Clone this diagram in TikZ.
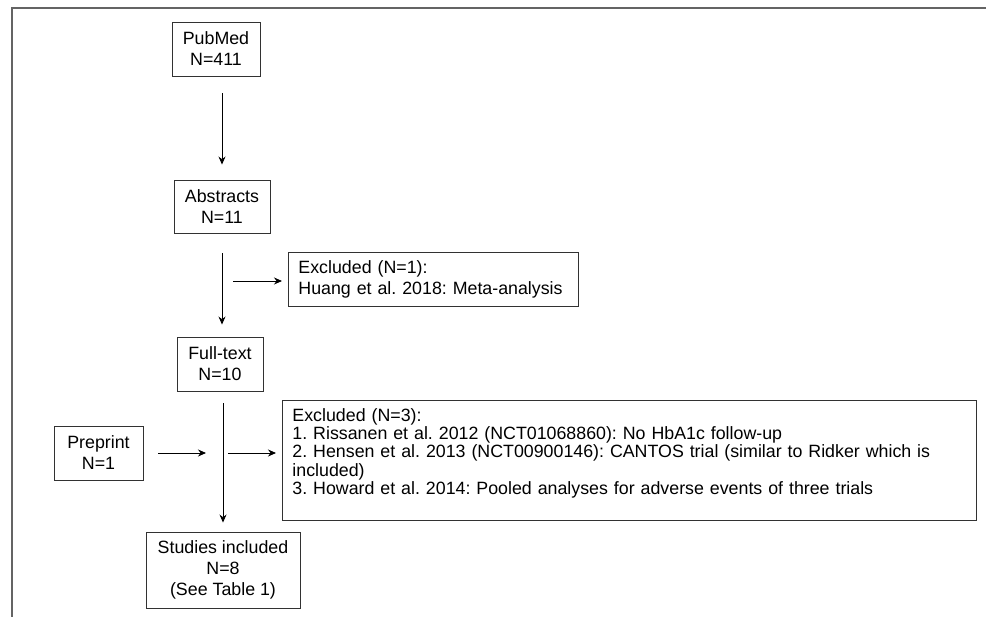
\documentclass[tikz,border=0pt]{standalone}
\usepackage{fontspec}
\setmainfont{Liberation Sans}
\usetikzlibrary{arrows.meta,positioning}
\definecolor{framegray}{RGB}{100,100,100}
\definecolor{boxgray}{RGB}{50,50,50}
\frenchspacing

\begin{document}
\begin{tikzpicture}[x=1pt,y=-1pt,
  stagebox/.style={draw=boxgray,line width=0.9pt,align=center,inner sep=0pt,
                   font=\fontsize{17.8}{21}\selectfont},
  exclbox/.style={draw=boxgray,line width=0.9pt,align=left,anchor=north west,
                  inner xsep=10pt,inner ysep=0pt,font=\fontsize{17.8}{18.3}\selectfont},
  flow/.style={-{Stealth[length=8pt,width=7pt]},line width=0.9pt}]
  \useasboundingbox (0,0) rectangle (986,617);

  % outer frame (top and left side only)
  \draw[framegray,line width=2pt] (12,617) -- (12,8) -- (986,8);

  % main column
  \node[stagebox,minimum width=88pt,minimum height=54pt] (pubmed) at (216,49) {PubMed\\N=411};
  \node[stagebox,minimum width=96pt,minimum height=53pt] (abstracts) at (222,206.5) {Abstracts\\N=11};
  \node[stagebox,minimum width=86pt,minimum height=54pt] (fulltext) at (220,364) {Full-text\\N=10};
  \node[stagebox,minimum width=154pt,minimum height=76pt] (studies) at (223,570) {Studies included\\N=8\\(See Table 1)};
  \node[stagebox,minimum width=89pt,minimum height=54pt] (preprint) at (98.5,453) {Preprint\\N=1};

  % exclusion boxes
  \node[exclbox,text width=270pt,minimum height=54pt,font=\fontsize{17.8}{21}\selectfont] (excl1) at (288,252)
       {Excluded (N=1):\\Huang et al. 2018: Meta-analysis};
  \node[exclbox,text width=674pt,minimum height=120pt] (excl3) at (282,400)
       {Excluded (N=3):\\
        1. Rissanen et al. 2012 (NCT01068860): No HbA1c follow-up\\
        2. Hensen et al. 2013 (NCT00900146): CANTOS trial (similar to Ridker which is\\
        included)\\
        3. Howard et al. 2014: Pooled analyses for adverse events of three trials\\
        \mbox{}};

  % junctions on the vertical flow
  \coordinate (j1) at (222,281);
  \coordinate (j2) at (223,453);

  % vertical arrows
  \draw[flow,shorten <=17pt,shorten >=15pt] (abstracts.north |- pubmed.south) -- (abstracts.north);
  \draw[flow,shorten <=20pt,shorten >=12pt] (abstracts.south) -- (abstracts.south |- fulltext.north);
  \draw[flow,shorten <=12pt,shorten >=9pt] (studies.north |- fulltext.south) -- (studies.north);

  % side arrows
  \draw[flow,shorten <=11pt,shorten >=6pt] (j1) -- (j1 -| excl1.west);
  \draw[flow,shorten <=15pt,shorten >=17pt] (preprint.east) -- (j2);
  \draw[flow,shorten <=5pt,shorten >=6pt] (j2) -- (j2 -| excl3.west);
\end{tikzpicture}
\end{document}
